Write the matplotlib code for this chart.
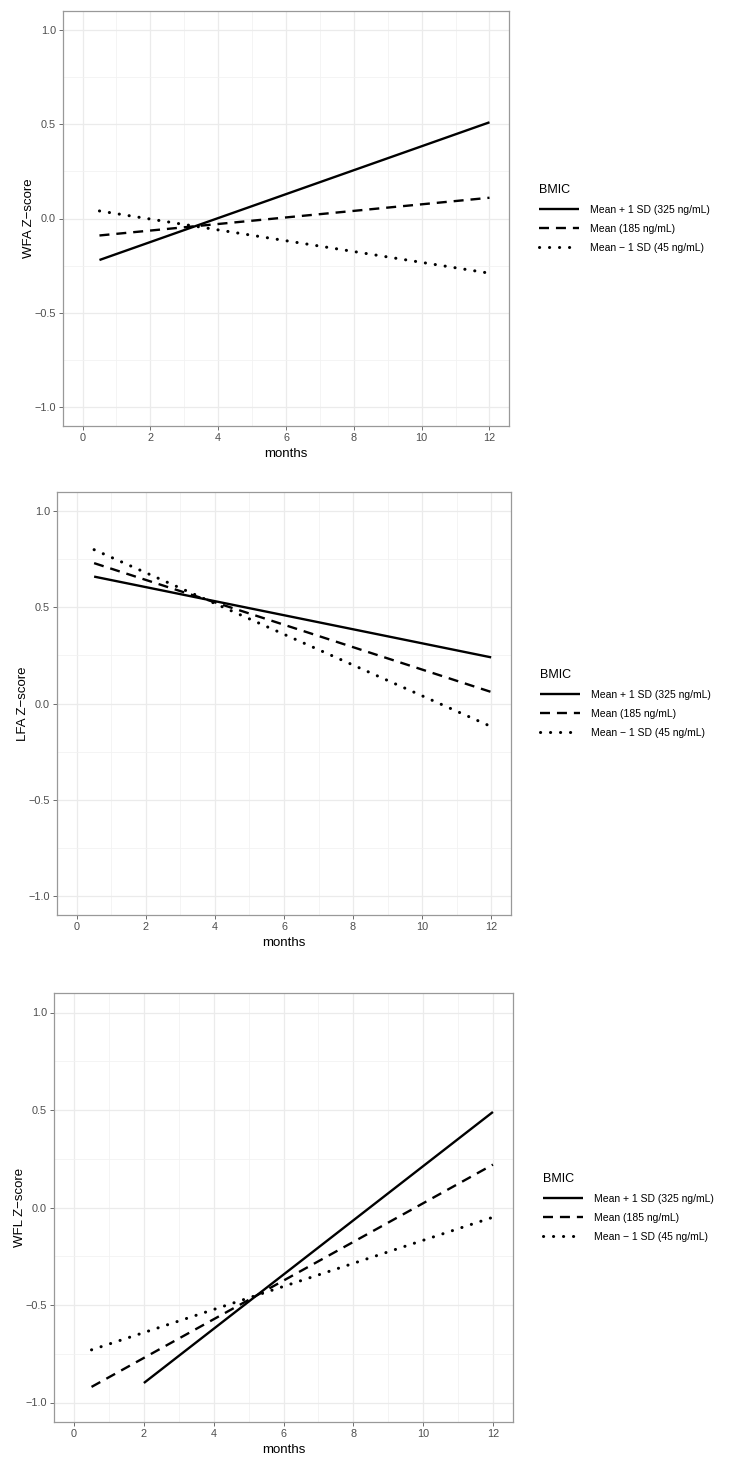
import numpy as np
import matplotlib
matplotlib.use("Agg")
import matplotlib.pyplot as plt

plt.rcParams["font.family"] = ["Liberation Sans", "DejaVu Sans"]
plt.rcParams["lines.scale_dashes"] = False

# series labels (BMIC levels)
series_labels = ["Mean + 1 SD (325 ng/mL)", "Mean (185 ng/mL)", "Mean \u2212 1 SD (45 ng/mL)"]
series_styles = ["-", (0, (7.2, 5.0)), (0, (0.1, 7.1))]
series_caps = ["butt", "butt", "round"]
series_lw = [1.7, 1.7, 2.2]

# WFA: start/end of each fitted line
wfa_x = [[0.5, 12], [0.5, 12], [0.5, 12]]
wfa_y = [[-0.22, 0.51], [-0.09, 0.11], [0.04, -0.29]]

# LFA
lfa_x = [[0.5, 12], [0.5, 12], [0.5, 12]]
lfa_y = [[0.66, 0.24], [0.73, 0.06], [0.80, -0.12]]

# WFL
wfl_x = [[2, 12], [0.5, 12], [0.5, 12]]
wfl_y = [[-0.90, 0.49], [-0.92, 0.22], [-0.73, -0.05]]

panels = [
    ("WFA Z\u2212score", wfa_x, wfa_y, [63, 11, 509, 426], 530),
    ("LFA Z\u2212score", lfa_x, lfa_y, [57, 492, 511, 915], 531),
    ("WFL Z\u2212score", wfl_x, wfl_y, [54, 993, 513, 1422], 534),
]

W, H = 730, 1461
fig = plt.figure(figsize=(W / 100, H / 100), dpi=100)

for ylabel, xs, ys, (l, t, r, b), legx in panels:
    ax = fig.add_axes([l / W, (H - b) / H, (r - l) / W, (b - t) / H])
    for x, y, lab, ls, cap, lw in zip(xs, ys, series_labels, series_styles, series_caps, series_lw):
        ax.plot(x, y, color="black", lw=lw, linestyle=ls, label=lab,
                solid_capstyle="butt", dash_capstyle=cap)
    ax.set_xlim(-0.575, 12.575)
    ax.set_ylim(-1.1, 1.1)
    ax.set_xticks(np.arange(0, 13, 2))
    ax.set_xticks(np.arange(1, 13, 2), minor=True)
    ax.set_yticks([-1.0, -0.5, 0.0, 0.5, 1.0])
    ax.set_yticks([-0.75, -0.25, 0.25, 0.75], minor=True)
    ax.set_yticklabels(["\u22121.0", "\u22120.5", "0.0", "0.5", "1.0"])
    ax.grid(which="major", color="#EBEBEB", lw=0.9)
    ax.grid(which="minor", color="#F2F2F2", lw=0.6)
    ax.set_axisbelow(True)
    ax.tick_params(which="major", length=3, width=0.6, color="#555555",
                   labelsize=7.8, labelcolor="#4D4D4D", pad=2)
    ax.tick_params(which="minor", length=0)
    for s in ax.spines.values():
        s.set_color("#999999")
        s.set_linewidth(0.9)
    ax.set_xlabel("months", fontsize=9.5, labelpad=3.5)
    ax.set_ylabel(ylabel, fontsize=9.5, labelpad=0)
    yc = 1 - ((t + b) / 2) / H
    ax.legend(loc="center left", bbox_to_anchor=(legx / W, yc),
              bbox_transform=fig.transFigure, frameon=False,
              title="BMIC", fontsize=7.5, title_fontsize=9,
              handlelength=3.8, handletextpad=1.1, labelspacing=0.85,
              alignment="left")

fig.savefig("out.png", dpi=100)
